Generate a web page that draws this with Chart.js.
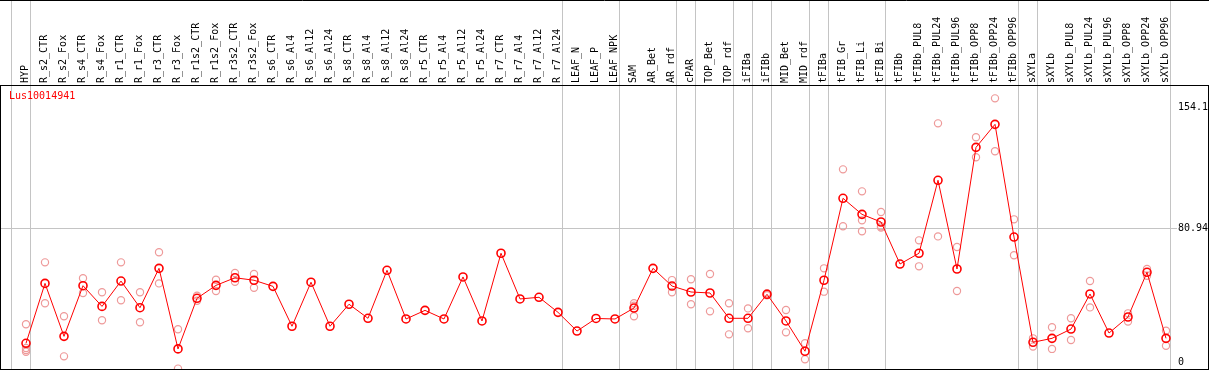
<!DOCTYPE html>
<html>
<head>
<meta charset="utf-8">
<script src="https://cdn.jsdelivr.net/npm/chart.js@4"></script>
<style>
html,body{margin:0;padding:0;background:#fff;}
canvas{display:block;}
</style>
</head>
<body>
<canvas id="c" width="1209" height="370"></canvas>
<script>
const geneName = "Lus10014941";
const categories = ["HYP","R_s2_CTR","R_s2_Fox","R_s4_CTR","R_s4_Fox","R_r1_CTR","R_r1_Fox","R_r3_CTR","R_r3_Fox","R_r1s2_CTR","R_r1s2_Fox","R_r3s2_CTR","R_r3s2_Fox","R_s6_CTR","R_s6_Al4","R_s6_Al12","R_s6_Al24","R_s8_CTR","R_s8_Al4","R_s8_Al12","R_s8_Al24","R_r5_CTR","R_r5_Al4","R_r5_Al12","R_r5_Al24","R_r7_CTR","R_r7_Al4","R_r7_Al12","R_r7_Al24","LEAF_N","LEAF_P","LEAF_NPK","SAM","AR_Bet","AR_rdf","cPAR","TOP_Bet","TOP_rdf","iFIBa","iFIBb","MID_Bet","MID_rdf","tFIBa","tFIB_Gr","tFIB_Li","tFIB_Bi","tFIBb","tFIBb_PUL8","tFIBb_PUL24","tFIBb_PUL96","tFIBb_OPP8","tFIBb_OPP24","tFIBb_OPP96","sXYLa","sXYLb","sXYLb_PUL8","sXYLb_PUL24","sXYLb_PUL96","sXYLb_OPP8","sXYLb_OPP24","sXYLb_OPP96"];
const means = [11.3,47.5,15.5,46.1,33.6,48.9,32.8,56.6,7.9,38.5,46.3,50.9,49.4,45.7,21.6,48.2,21.6,34.9,26.4,55.4,26.0,31.2,26.0,51.4,24.8,65.7,38.1,39.1,30.0,18.7,26.3,26.0,32.6,56.6,45.9,42.3,41.7,26.4,26.4,40.9,24.8,6.5,49.4,98.9,89.2,84.6,59.2,65.7,109.8,56.2,129.7,143.6,75.5,11.9,14.3,19.9,41.1,17.5,27.2,54.2,14.3];
const rep1 = [22.8,60.2,27.6,50.6,42.1,60.2,42.1,66.3,19.8,40.1,49.7,53.8,53.2,null,null,null,null,null,null,null,null,null,null,null,null,null,null,null,null,null,null,null,35.5,null,49.5,50.0,53.2,35.5,32.4,41.6,31.4,11.3,56.6,116.4,103.1,90.6,null,73.5,144.2,69.5,135.8,159.3,86.2,14.3,21.0,26.4,48.9,null,29.4,56.2,18.9];
const rep2 = [8.5,35.5,3.4,41.7,25.2,37.3,24.0,47.5,-4.0,37.0,42.9,48.5,44.9,null,null,null,null,null,null,null,null,null,null,null,null,null,null,null,null,null,null,null,34.0,null,42.1,34.9,30.6,16.7,20.4,40.3,17.9,1.6,42.5,82.0,85.6,81.2,null,57.8,75.9,42.9,123.7,127.3,64.5,9.3,7.9,13.3,33.0,null,24.4,52.1,9.8];
const rep3 = [7.2,null,null,null,null,null,null,null,null,null,null,null,null,null,null,null,null,null,null,null,null,null,null,null,null,null,null,null,null,null,null,null,27.6,null,null,null,null,null,null,null,null,null,null,null,79.0,82.0,null,null,null,null,null,null,null,null,null,null,null,null,null,null,null];
const rep4 = [6.2,null,null,null,null,null,null,null,null,null,null,null,null,null,null,null,null,null,null,null,null,null,null,null,null,null,null,null,null,null,null,null,null,null,null,null,null,null,null,null,null,null,null,null,null,null,null,null,null,null,null,null,null,null,null,null,null,null,null,null,null];
const yTicks = [0, 80.94, 154.1];
const groupEnds = [-1,0,28,31,34,35,37,38,39,41,42,45,52,53,60];

const repPoints = [];
[rep1, rep2, rep3, rep4].forEach(r => r.forEach((v, i) => { if (v !== null) repPoints.push({x: i, y: v}); }));

const MONO = "'DejaVu Sans Mono', monospace";
const AREA = {left: 1, right: 1208, top: 85, bottom: 369};

const framePlugin = {
  id: 'frame',
  afterLayout(chart) {
    const a = chart.chartArea;
    a.left = AREA.left; a.right = AREA.right; a.top = AREA.top; a.bottom = AREA.bottom;
    a.width = AREA.right - AREA.left; a.height = AREA.bottom - AREA.top;
    const xs = chart.scales.x, ys = chart.scales.y;
    xs.left = AREA.left; xs.right = AREA.right; xs.width = a.width;
    xs.top = 0; xs.bottom = AREA.top; xs.height = AREA.top;
    xs.configure();
    ys.top = AREA.top; ys.bottom = AREA.bottom; ys.height = a.height;
    ys.left = 1177; ys.right = AREA.right; ys.width = AREA.right - 1177;
    ys.configure();
  },
  beforeDatasetsDraw(chart) {
    const ctx = chart.ctx, xs = chart.scales.x, ys = chart.scales.y, a = chart.chartArea;
    ctx.save();
    ctx.strokeStyle = '#c4c4c4';
    ctx.lineWidth = 1;
    groupEnds.forEach(e => {
      const px = Math.floor(xs.getPixelForValue(e + 0.23)) + 0.5;
      ctx.beginPath(); ctx.moveTo(px, 0); ctx.lineTo(px, a.bottom); ctx.stroke();
    });
    const py = Math.floor(ys.getPixelForValue(yTicks[1])) + 0.5;
    ctx.beginPath(); ctx.moveTo(a.left, py); ctx.lineTo(1177, py); ctx.stroke();
    ctx.restore();
  },
  afterDraw(chart) {
    const ctx = chart.ctx, a = chart.chartArea;
    ctx.save();
    ctx.strokeStyle = '#000';
    ctx.lineWidth = 1;
    ctx.strokeRect(0.5, a.top + 0.5, 1208, a.bottom - a.top);
    ctx.beginPath(); ctx.moveTo(0, 0.5); ctx.lineTo(1209, 0.5); ctx.stroke();
    ctx.fillStyle = '#ff0000';
    ctx.font = "10px " + MONO;
    ctx.textBaseline = 'top';
    ctx.textAlign = 'left';
    ctx.fillText(geneName, 9, a.top + 6);
    ctx.restore();
  }
};

new Chart(document.getElementById('c'), {
  type: 'line',
  data: {
    datasets: [
      {
        label: 'mean',
        data: means.map((v, i) => ({x: i, y: v})),
        borderColor: '#ff0000',
        borderWidth: 1,
        pointRadius: 4,
        pointBorderWidth: 1.6,
        pointBorderColor: '#ff0000',
        pointBackgroundColor: 'rgba(0,0,0,0)',
        tension: 0,
        fill: false,
        order: 0
      },
      {
        label: 'replicates',
        data: repPoints,
        showLine: false,
        pointRadius: 3.6,
        pointBorderWidth: 1.2,
        pointBorderColor: '#ee9a9a',
        pointBackgroundColor: 'rgba(0,0,0,0)',
        order: 1
      }
    ]
  },
  options: {
    responsive: false,
    animation: false,
    devicePixelRatio: 1,
    layout: {padding: {left: 1, right: 1, top: 0, bottom: 1}},
    plugins: {legend: {display: false}, tooltip: {enabled: false}},
    scales: {
      x: {
        type: 'linear',
        position: 'top',
        min: -1.3158,
        max: 62.2105,
        afterFit(s) { s.height = 85; },
        afterBuildTicks(s) { s.ticks = categories.map((c, i) => ({value: i})); },
        ticks: {
          autoSkip: false,
          minRotation: 90,
          maxRotation: 90,
          padding: 2,
          labelOffset: 11,
          color: '#000',
          font: {family: MONO, size: 10, lineHeight: 1.2},
          callback: (v) => categories[v]
        },
        grid: {display: false, drawTicks: false},
        border: {display: false}
      },
      y: {
        position: 'right',
        min: -4.23,
        max: 167.37,
        afterBuildTicks(s) { s.ticks = yTicks.map(v => ({value: v})); },
        ticks: {
          mirror: false,
          padding: 1,
          color: '#000',
          font: {family: MONO, size: 10},
          callback: (v) => String(v)
        },
        grid: {display: false, drawTicks: false},
        border: {display: false}
      }
    }
  },
  plugins: [framePlugin]
});
</script>
</body>
</html>
